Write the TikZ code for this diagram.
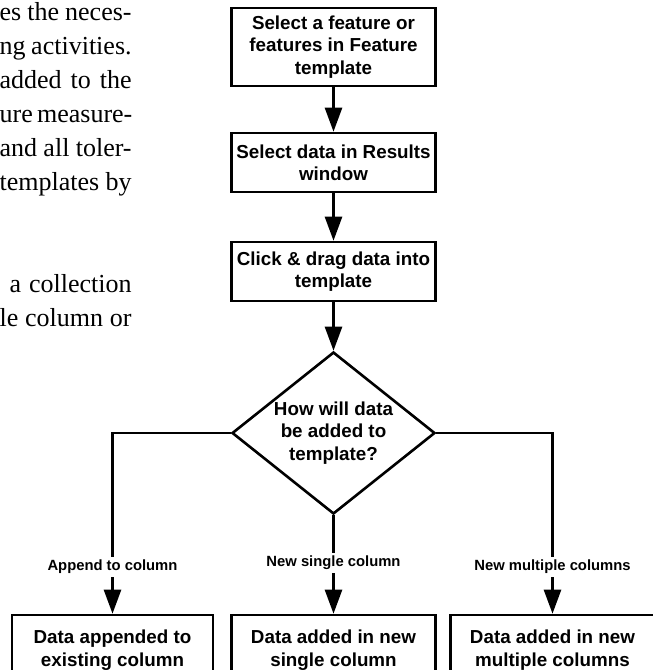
\documentclass[tikz,border=0pt]{standalone}
\usepackage{fontspec}
\setmainfont{Liberation Serif}
\setsansfont{Liberation Sans}
\usepackage{tikz}
\usetikzlibrary{shapes.geometric,arrows.meta}

\begin{document}
\begin{tikzpicture}[x=0.5pt,y=-0.5pt,
  box/.style={draw,line width=1.3pt,minimum width=102pt,inner sep=2pt,align=center,
    font=\sffamily\bfseries\fontsize{9.4}{11.2}\selectfont},
  decision/.style={draw,diamond,line width=1.3pt,minimum width=101.5pt,minimum height=81pt,
    inner sep=0pt,aspect=1.25,align=center,font=\sffamily\bfseries\fontsize{9.4}{11.2}\selectfont},
  branchlbl/.style={inner sep=1.5pt,font=\sffamily\bfseries\fontsize{7.4}{8.5}\selectfont},
  bodytext/.style={anchor=base east,inner sep=0pt,font=\fontsize{13}{17}\selectfont},
  link/.style={line width=1.3pt},
  arr/.style={line width=1.3pt,-{Triangle[length=12pt,width=8.5pt]}}]
  \useasboundingbox (0,0) rectangle (653,670);
  % running text cut at the left edge of the page
  \node[bodytext] (t1) at (132,20) {\makebox[66pt][s]{es the neces-}};
  \node[bodytext] (t2) at (132,54) {\makebox[66pt][s]{ng activities.}};
  \node[bodytext] (t3) at (132,88) {\makebox[66pt][s]{added to the}};
  \node[bodytext] (t4) at (132,122) {\makebox[66pt][s]{ure measure-}};
  \node[bodytext] (t5) at (132,156) {\makebox[66pt][s]{and all toler-}};
  \node[bodytext] (t6) at (132,190) {\makebox[66pt][s]{templates by}};
  \node[bodytext] (t7) at (132,292) {\makebox[61pt][s]{a collection}};
  \node[bodytext] (t8) at (132,326) {\makebox[66pt][s]{le column or}};
  % main chain
  \node[box,minimum height=39pt] (sel) at (333.5,47) {Select a feature or\\features in Feature\\template};
  \node[box,minimum height=29.5pt] (res) at (333.5,162.5) {Select data in Results\\window};
  \node[box,minimum height=29.5pt] (drag) at (333.5,271.5) {Click \& drag data into\\template};
  \node[decision] (how) at (333.5,433) {How will data\\be added to\\template?};
  % branches
  \node[branchlbl] (lapp) at (112.5,567) {Append to column};
  \node[branchlbl] (lsgl) at (333.5,563) {New single column};
  \node[branchlbl] (lmul) at (552.5,567) {New multiple columns};
  \node[box,minimum width=100.5pt,minimum height=35pt] (oapp) at (112.5,650) {Data appended to\\existing column};
  \node[box,minimum height=35pt] (osgl) at (333.5,650) {Data added in new\\single column};
  \node[box,minimum height=35pt] (omul) at (552.5,650) {Data added in new\\multiple columns};
  \draw[arr] (sel) -- (res);
  \draw[arr] (res) -- (drag);
  \draw[arr] (drag) -- (how);
  \draw[link] (how.west) -| (lapp.north);
  \draw[arr] (lapp) -- (oapp);
  \draw[link] (how.south) -- (lsgl.north);
  \draw[arr] (lsgl) -- (osgl);
  \draw[link] (how.east) -| (lmul.north);
  \draw[arr] (lmul) -- (omul);
\end{tikzpicture}
\end{document}
